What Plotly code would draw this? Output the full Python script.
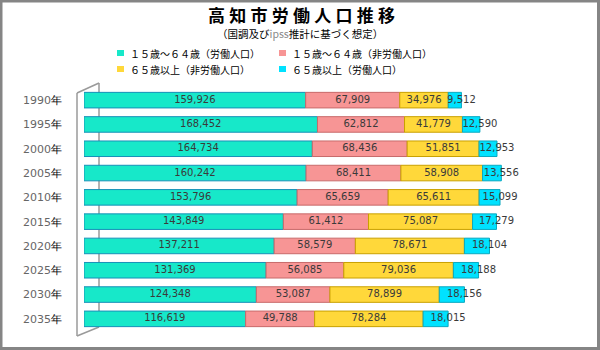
import plotly.graph_objects as go
import numpy as np

years = ["1990", "1995", "2000", "2005", "2010", "2015", "2020", "2025", "2030", "2035"]
work_15_64 = [159926, 168452, 164734, 160242, 153796, 143849, 137211, 131369, 124348, 116619]
nonwork_15_64 = [67909, 62812, 68436, 68411, 65659, 61412, 58579, 56085, 53087, 49788]
nonwork_65 = [34976, 41779, 51851, 58908, 65611, 75087, 78671, 79036, 78899, 78284]
work_65 = [9512, 12590, 12953, 13556, 15099, 17279, 18104, 18188, 18156, 18015]

series_names = ["１５歳～６４歳（労働人口）", "１５歳～６４歳（非労働人口）",
                "６５歳以上（非労働人口）", "６５歳以上（労働人口）"]
series_vals = [work_15_64, nonwork_15_64, nonwork_65, work_65]
colors = ["#17E8C9", "#F79595", "#FFD83A", "#00E2FF"]
edge_colors = ["#1790B8", "#C86A6A", "#C9A000", "#0AA8C0"]
title_text = "高知市労働人口推移"

W, H = 600, 350
ML, MR, MT, MB = 84, 10, 88, 19
PW, PH = W - ML - MR, H - MT - MB


def px(xp):
    return (xp - ML) / PW


def py(yp):
    return 1 - (yp - MT) / PH


fig = go.Figure()

cats = [y + "年" for y in years]
base = np.zeros(len(years))
for name, vals, c, ec in zip(series_names, series_vals, colors, edge_colors):
    fig.add_trace(go.Bar(
        y=cats, x=vals, orientation="h", name=name, base=base.copy(),
        marker=dict(color=c, line=dict(color=ec, width=1)),
        width=0.64, showlegend=False, hoverinfo="x+name",
    ))
    base = base + np.array(vals)

# labels
base = np.zeros(len(years))
for i, vals in enumerate(series_vals):
    v = np.array(vals)
    if i < 3:
        xs = base + v / 2
    else:
        xs = base + v
    fig.add_trace(go.Scatter(
        y=cats, x=xs, mode="text", text=[f"{a:,}" for a in vals],
        textposition="middle center",
        textfont=dict(family="DejaVu Sans", size=10, color="#3a3a3a"),
        showlegend=False, hoverinfo="skip",
    ))
    base = base + v

shapes = []
# outer border
shapes.append(dict(type="rect", xref="paper", yref="paper",
                   x0=px(1), x1=px(598.5), y0=py(1), y1=py(348.5),
                   line=dict(color="#858585", width=3)))
# 3D wall lines
lc = dict(color="#9a9a9a", width=1.5)
shapes.append(dict(type="line", xref="paper", yref="paper", x0=px(77), x1=px(77), y0=py(93), y1=py(336), line=lc, layer="below"))
shapes.append(dict(type="line", xref="paper", yref="paper", x0=px(99), x1=px(99), y0=py(83), y1=py(327), line=lc, layer="below"))
shapes.append(dict(type="line", xref="paper", yref="paper", x0=px(77), x1=px(99), y0=py(93), y1=py(83), line=lc, layer="below"))
shapes.append(dict(type="line", xref="paper", yref="paper", x0=px(77), x1=px(99), y0=py(336), y1=py(327), line=lc, layer="below"))

annotations = []
annotations.append(dict(text="<b>" + "\u2005".join(title_text) + "</b>", xref="paper", yref="paper",
                        x=px(301), y=py(15), xanchor="center", yanchor="middle", showarrow=False,
                        font=dict(family="Noto Sans CJK JP", size=17, color="#000000")))
annotations.append(dict(text="（国調及び<span style='color:#888'>ipss</span>推計に基づく想定）", xref="paper", yref="paper",
                        x=px(300), y=py(33), xanchor="center", yanchor="middle", showarrow=False,
                        font=dict(family="Noto Sans CJK JP", size=10.5, color="#000000")))

leg_pos = [(117, 53), (279, 53), (117, 69), (279, 69)]
for (lx, ly), name, c in zip(leg_pos, series_names, colors):
    shapes.append(dict(type="rect", xref="paper", yref="paper",
                       x0=px(lx), x1=px(lx + 7), y0=py(ly - 3), y1=py(ly + 3),
                       fillcolor=c, line=dict(width=0)))
    annotations.append(dict(text=name, xref="paper", yref="paper",
                            x=px(lx + 11), y=py(ly), xanchor="left", yanchor="middle",
                            showarrow=False,
                            font=dict(family="Noto Sans CJK JP", size=10, color="#000000")))

fig.update_layout(
    width=W, height=H,
    margin=dict(l=ML, r=MR, t=MT, b=MB),
    paper_bgcolor="white", plot_bgcolor="white",
    barmode="overlay",
    shapes=shapes, annotations=annotations,
    showlegend=False,
    xaxis=dict(range=[0, PW * 721.5], visible=False, fixedrange=True),
    yaxis=dict(autorange="reversed", showgrid=False, zeroline=False, showline=False,
               tickmode="array", tickvals=cats,
               ticktext=[f"{y}<span style='color:#000'>年</span>" for y in years],
               tickfont=dict(family="DejaVu Sans", size=11, color="#666666"),
               ticklabelstandoff=21, ticks=""),
)

fig.write_html("out.html")
